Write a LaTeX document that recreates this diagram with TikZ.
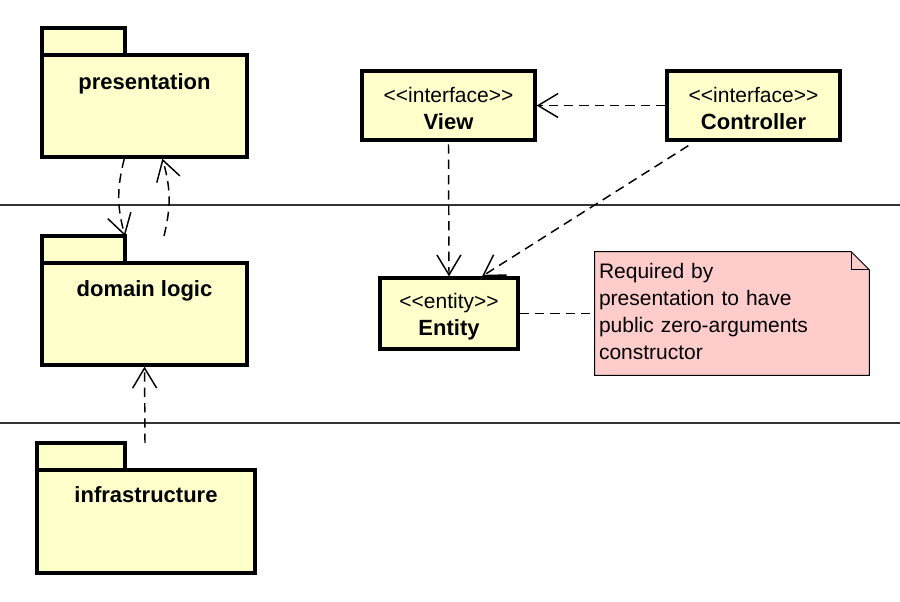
\documentclass[tikz,border=0pt]{standalone}
\usepackage{fontspec}
\setmainfont{Liberation Sans}
\usetikzlibrary{arrows.meta,backgrounds}
\definecolor{umlyellow}{RGB}{255,255,204}
\definecolor{notepink}{RGB}{255,204,204}
\tikzset{
  pkgbody/.style={draw,line width=2.5pt,fill=umlyellow,minimum width=153.75pt,minimum height=76.5pt,inner sep=0pt},
  pkgtab/.style={draw,line width=2.5pt,fill=umlyellow,minimum width=62.25pt,minimum height=20.25pt,inner sep=0pt,outer sep=0pt,anchor=south west},
  pkgname/.style={font=\fontsize{16.5}{20}\selectfont\bfseries,inner sep=0pt},
  classbox/.style={draw,line width=2.5pt,fill=umlyellow,minimum height=51.75pt,align=center,inner sep=0pt,font=\fontsize{15.75}{20.25}\selectfont},
  notebox/.style={text width=199.5pt,minimum height=92.25pt,inner xsep=3pt,inner ysep=0pt,align=left,font=\fontsize{15.75}{20.25}\selectfont},
  dep/.style={line width=1.1pt,dash pattern=on 7pt off 4.5pt,-{Straight Barb[length=15pt,width=18pt,line width=1.1pt]}},
  link/.style={line width=1.1pt,dash pattern=on 7pt off 4.5pt}
}
\newcommand{\stereo}[1]{\rule{0pt}{16pt}<\kern0pt<#1>\kern0pt>}
\newcommand{\cname}[1]{{\fontsize{16.5}{20.25}\selectfont\bfseries #1}}
\begin{document}
\begin{tikzpicture}[x=0.75pt,y=-0.75pt]
  \useasboundingbox (0,0) rectangle (900,601);
  \draw[line width=1.1pt,black!80] (0,205) -- (900,205);
  \draw[line width=1.1pt,black!80] (0,423) -- (900,423);

  \node (pres) at (144.5,106) [pkgbody] {};
  \node (prestab) at ([xshift=1.25pt,yshift=-1.25pt]pres.north west) [pkgtab] {};
  \node (presname) at ([yshift=-22.5pt]pres.north) [pkgname] {presentation};

  \node (dom) at (144.5,314) [pkgbody] {};
  \node (domtab) at ([xshift=1.25pt,yshift=-1.25pt]dom.north west) [pkgtab] {};
  \node (domname) at ([yshift=-22.5pt]dom.north) [pkgname] {domain logic};

  \node (infra) at (146,521.5) [pkgbody,minimum width=163.5pt,minimum height=77.25pt] {};
  \node (infratab) at ([xshift=1.25pt,yshift=-1.25pt]infra.north west) [pkgtab,minimum width=66pt] {};
  \node (infraname) at ([yshift=-20pt]infra.north) [pkgname] {infrastructure};

  \node (view) at (448.5,105.5) [classbox,minimum width=129.75pt] {\stereo{interface}\\\cname{View}};
  \node (ctrl) at (753.5,105.5) [classbox,minimum width=129.75pt] {\stereo{interface}\\\cname{Controller}};
  \node (entity) at (449,313.5) [classbox,minimum width=103.5pt,minimum height=53.25pt] {\stereo{entity}\\\cname{Entity}};

  \node (note) at (732,311.5) [notebox] {Required by\\presentation to have\\public zero-arguments\\constructor};
  \begin{scope}[on background layer]
    \draw[line width=0.75pt,fill=notepink] ([yshift=-1.5pt]note.north west) -- ([xshift=-13.5pt,yshift=-1.5pt]note.north east) -- ([yshift=-15pt]note.north east) -- ([yshift=-1.5pt]note.south east) -- ([yshift=-1.5pt]note.south west) -- cycle;
    \draw[line width=0.75pt] ([xshift=-13.5pt,yshift=-1.5pt]note.north east) |- ([yshift=-15pt]note.north east);
  \end{scope}

  \draw[dep] ([xshift=63pt]pres.south west) to[bend right=15] (domtab.north east);
  \draw[dep] ([xshift=29.25pt]domtab.north east) to[bend right=15] ([xshift=91.5pt]pres.south west);
  \draw[dep] ([xshift=15pt]infratab.north east) -- (dom.south);
  \draw[dep] (ctrl.west) -- (view.east);
  \draw[dep] ([yshift=-2pt]view.south) -- (entity.north);
  \draw[dep] ([xshift=17.25pt,yshift=-3pt]ctrl.south west) -- ([xshift=24.75pt]entity.north);
  \draw[link] (entity.east) -- ([yshift=-1.5pt]note.west);
\end{tikzpicture}
\end{document}
